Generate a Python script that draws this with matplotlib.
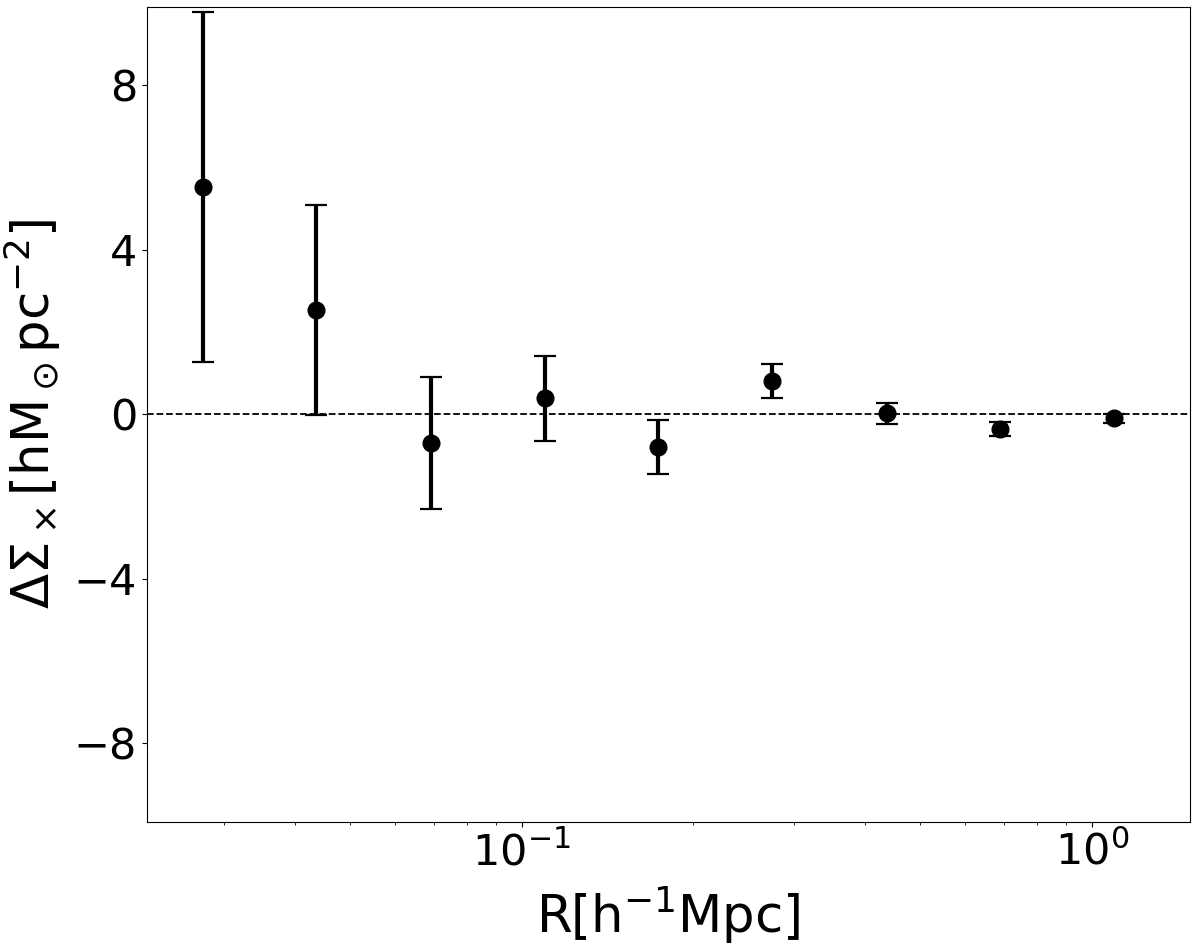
import numpy as np
import matplotlib
matplotlib.use('Agg')
import matplotlib.pyplot as plt

# --- Data ---
R = [0.0276, 0.0436, 0.0693, 0.110, 0.173, 0.275, 0.437, 0.690, 1.094]
dsigma_x = [5.52, 2.53, -0.70, 0.39, -0.79, 0.80, 0.02, -0.36, -0.10]
dsigma_err = [4.25, 2.56, 1.61, 1.03, 0.66, 0.41, 0.26, 0.17, 0.11]

yticks = [-8, -4, 0, 4, 8]

# --- Figure ---
fig = plt.figure(figsize=(12, 9.44), dpi=100)
ax = fig.add_axes([0.1225, 0.1296, 0.8692, 0.8633])

ax.errorbar(R, dsigma_x, yerr=dsigma_err, fmt='o', color='black',
            markersize=12, elinewidth=3, capsize=8, capthick=1.6)
ax.axhline(0, color='black', linestyle='--', linewidth=1.3)

ax.set_xscale('log')
ax.set_xlim(0.0220, 1.487)
ax.set_ylim(-9.9, 9.9)
ax.set_yticks(yticks)

ax.tick_params(axis='both', which='major', labelsize=31)
ax.set_xlabel(r'R[h$^{-1}$Mpc]', fontsize=37, labelpad=8)
ax.set_ylabel(r'$\Delta\Sigma_\times$[hM$_\odot$pc$^{-2}$]', fontsize=37, labelpad=8)

fig.savefig('out.png', dpi=100)
